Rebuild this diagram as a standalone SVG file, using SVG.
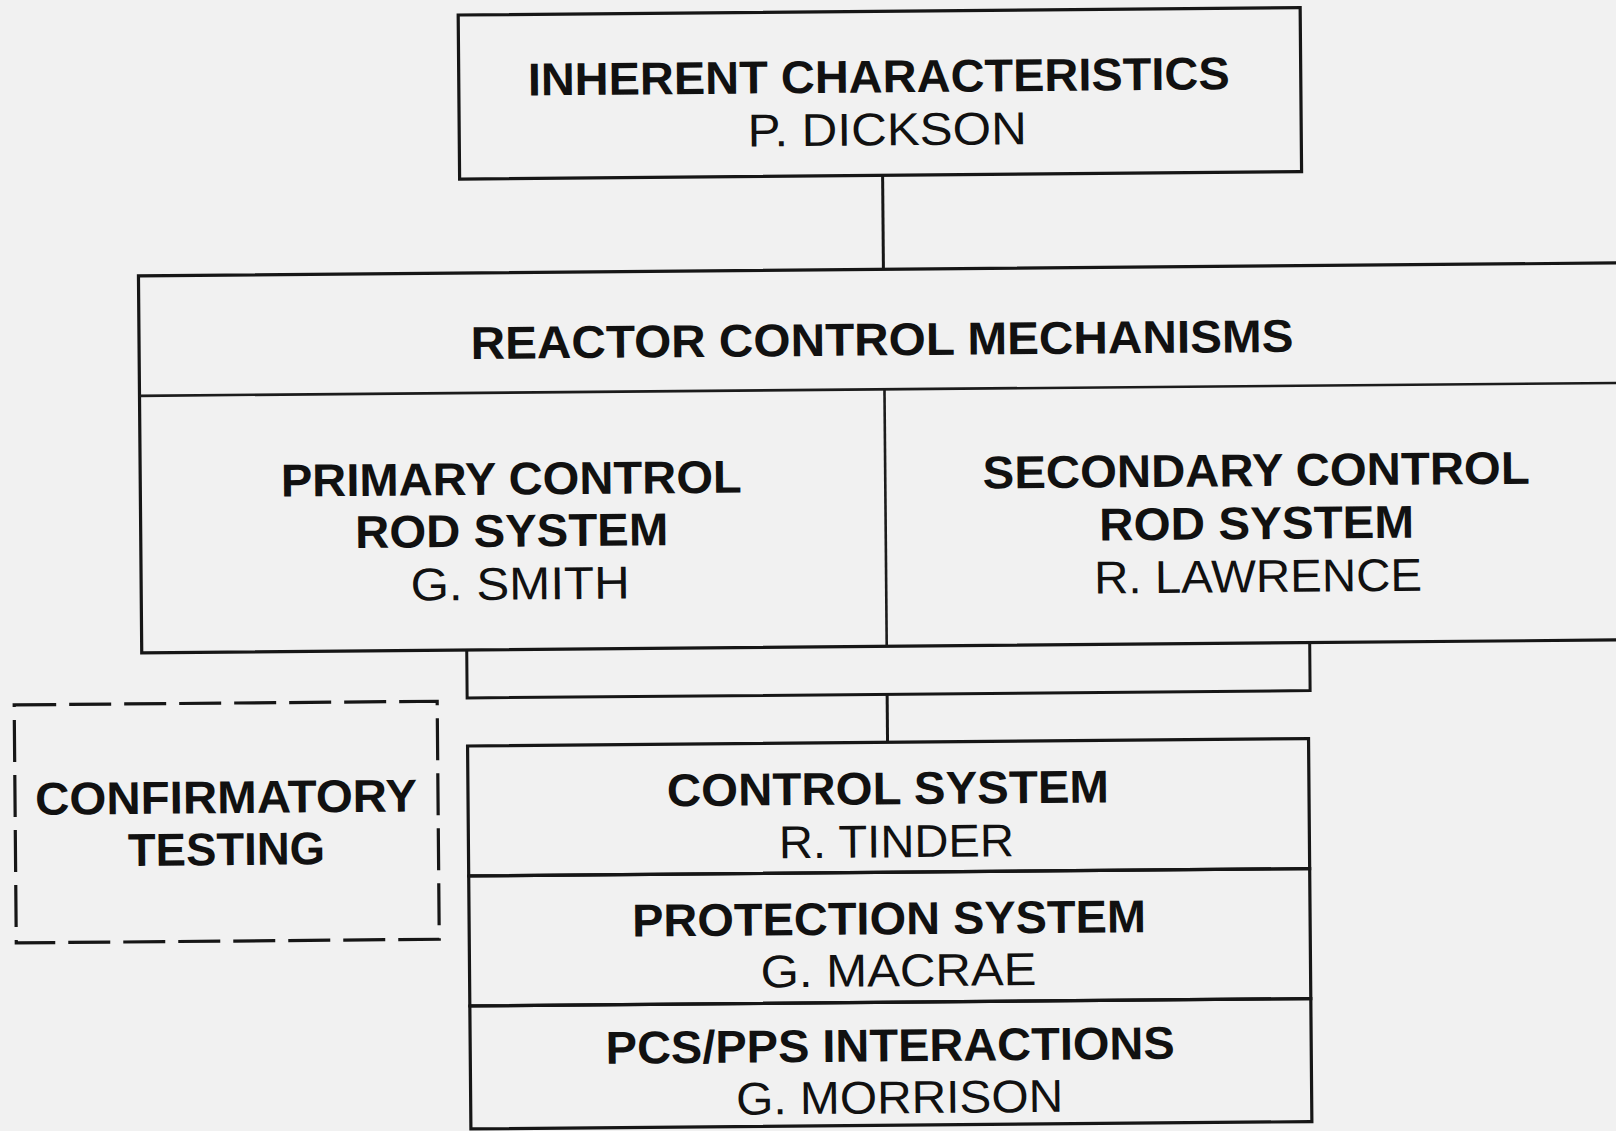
<svg xmlns="http://www.w3.org/2000/svg" width="1616" height="1131" viewBox="0 0 1616 1131">
<style>
.box{fill:none;stroke:#161616;stroke-width:3.2}
.div{fill:none;stroke:#1c1c1c;stroke-width:2.6}
.dash{fill:none;stroke:#161616;stroke-width:3.2;stroke-dasharray:42 13}
.con{fill:none;stroke:#161616;stroke-width:3}
.b{font-family:"Liberation Sans",Arial,sans-serif;font-weight:bold;font-size:46px;fill:#111;text-anchor:middle}
.r{font-family:"Liberation Sans",Arial,sans-serif;font-weight:normal;font-size:46px;fill:#111;text-anchor:middle}
</style>
<rect width="1616" height="1131" fill="#f1f1f1"/>
<g transform="rotate(-0.5 808 565)">
<g id="connectors">
<path class="con" d="M886 176 V270"/>
<path class="con" d="M466 647 V695 H1309 V647"/>
<path class="con" d="M886 695 V743"/>
</g>
<g id="n-inherent">
<rect class="box" x="463" y="12" width="842" height="164"/>
<text class="b" x="883" y="93" textLength="702" lengthAdjust="spacingAndGlyphs">INHERENT CHARACTERISTICS</text>
<text class="r" x="891" y="146" textLength="279" lengthAdjust="spacingAndGlyphs">P. DICKSON</text>
</g>
<g id="n-reactor">
<rect class="box" x="141" y="270" width="1500" height="377"/>
<path class="div" d="M141 390 H1641"/>
<text class="b" x="884" y="356" textLength="823" lengthAdjust="spacingAndGlyphs">REACTOR CONTROL MECHANISMS</text>
</g>
<g id="n-primary">
<path class="div" d="M886 390 V647"/>
<text class="b" x="512" y="492" textLength="461" lengthAdjust="spacingAndGlyphs">PRIMARY CONTROL</text>
<text class="b" x="512" y="544" textLength="313" lengthAdjust="spacingAndGlyphs">ROD SYSTEM</text>
<text class="r" x="520" y="597" textLength="219" lengthAdjust="spacingAndGlyphs">G. SMITH</text>
</g>
<g id="n-secondary">
<text class="b" x="1257" y="490" textLength="547" lengthAdjust="spacingAndGlyphs">SECONDARY CONTROL</text>
<text class="b" x="1257" y="543" textLength="315" lengthAdjust="spacingAndGlyphs">ROD SYSTEM</text>
<text class="r" x="1258" y="596" textLength="328" lengthAdjust="spacingAndGlyphs">R. LAWRENCE</text>
</g>
<g id="n-confirmatory">
<rect class="dash" x="13" y="698" width="423" height="238"/>
<text class="b" x="224" y="808" textLength="382" lengthAdjust="spacingAndGlyphs">CONFIRMATORY</text>
<text class="b" x="224" y="860" textLength="197" lengthAdjust="spacingAndGlyphs">TESTING</text>
</g>
<g id="n-control">
<rect class="box" x="466" y="743" width="841" height="130"/>
<text class="b" x="886" y="805" textLength="442" lengthAdjust="spacingAndGlyphs">CONTROL SYSTEM</text>
<text class="r" x="894" y="858" textLength="235" lengthAdjust="spacingAndGlyphs">R. TINDER</text>
</g>
<g id="n-protection">
<rect class="box" x="466" y="873" width="841" height="130"/>
<text class="b" x="886" y="935" textLength="514" lengthAdjust="spacingAndGlyphs">PROTECTION SYSTEM</text>
<text class="r" x="895" y="987" textLength="276" lengthAdjust="spacingAndGlyphs">G. MACRAE</text>
</g>
<g id="n-pcs">
<rect class="box" x="466" y="1003" width="841" height="123"/>
<text class="b" x="886" y="1062" font-size="44" textLength="569" lengthAdjust="spacingAndGlyphs">PCS/PPS INTERACTIONS</text>
<text class="r" x="895" y="1114" font-size="42" textLength="327" lengthAdjust="spacingAndGlyphs">G. MORRISON</text>
</g>
</g>
</svg>
